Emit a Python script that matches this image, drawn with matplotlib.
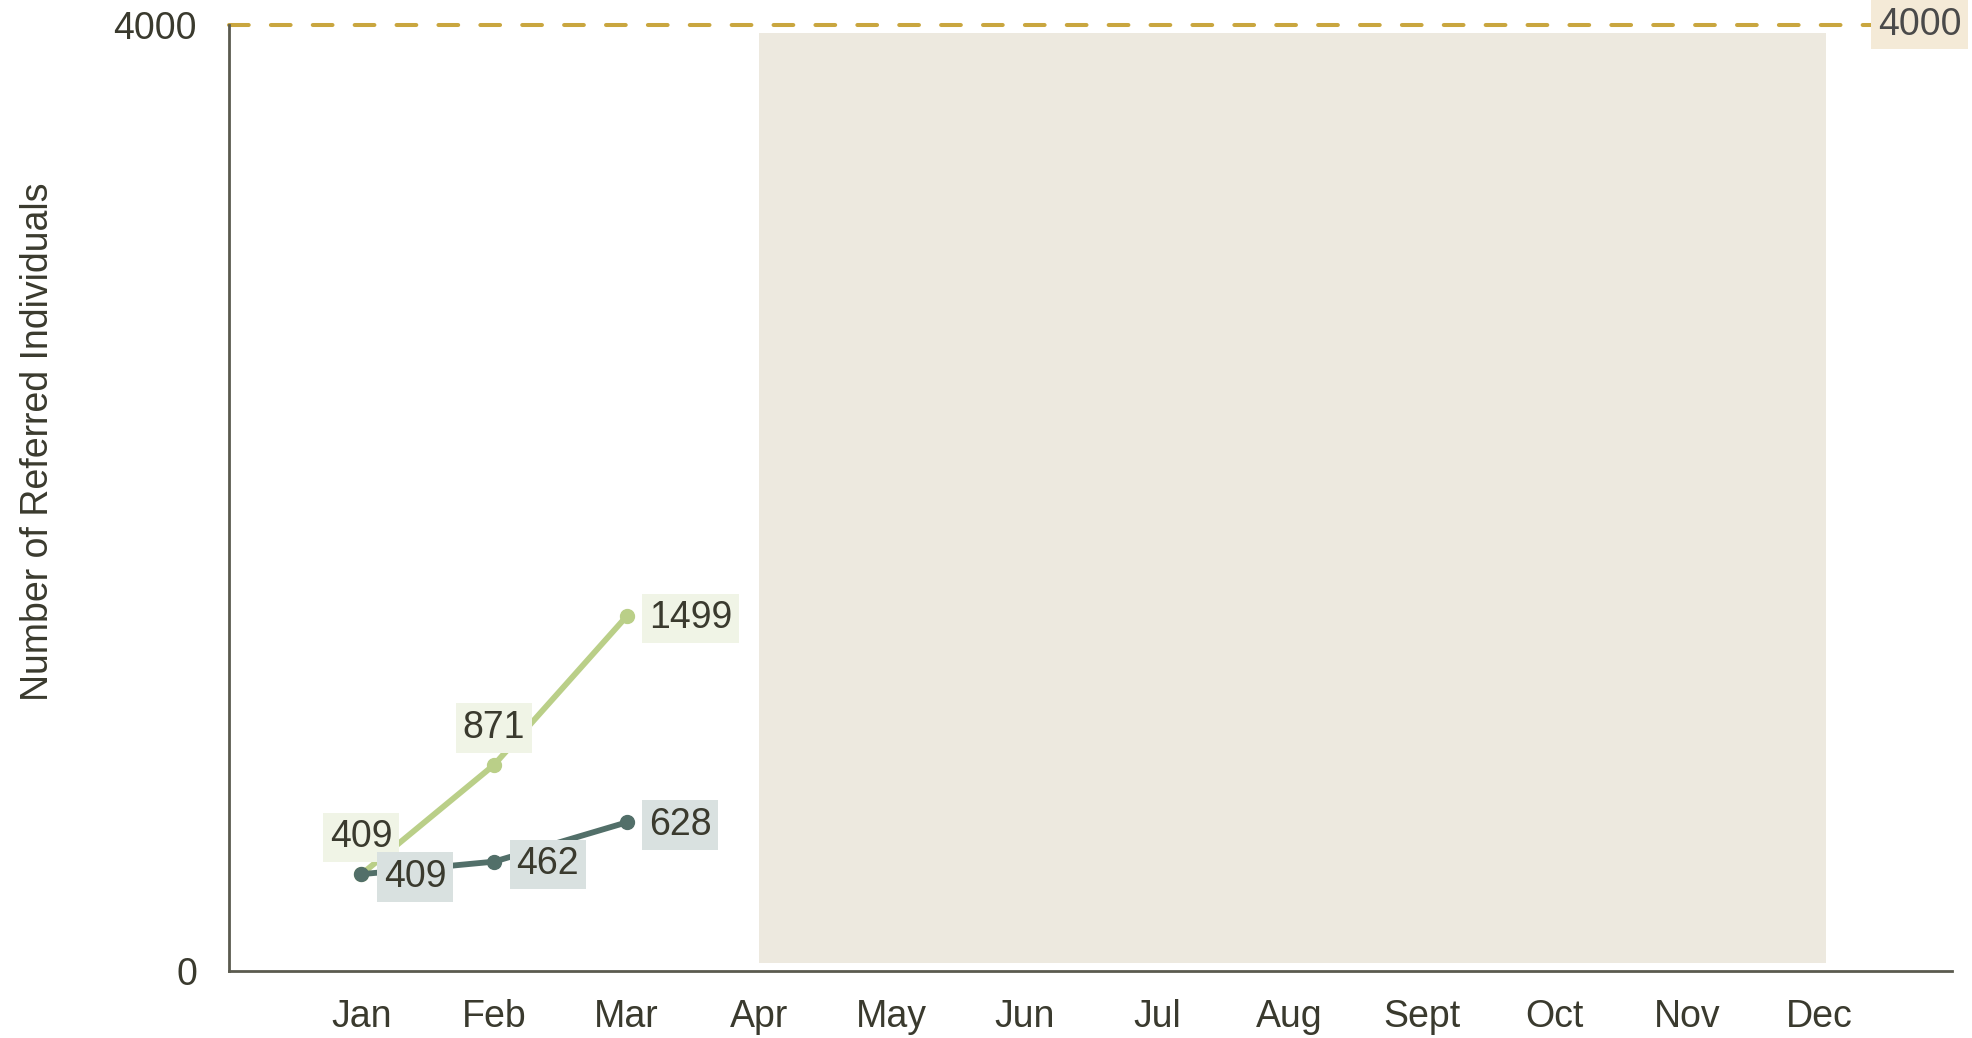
import matplotlib
matplotlib.use('Agg')
import matplotlib.pyplot as plt
from matplotlib.patches import Rectangle

# dados
meses = ['Jan', 'Feb', 'Mar', 'Apr', 'May', 'Jun', 'Jul', 'Aug', 'Sept', 'Oct', 'Nov', 'Dec']
acumulado = [409, 871, 1499]      # linha verde clara
mensal = [409, 462, 628]          # linha verde escura
meta = 4000
faixa_inicio = 3.0                # area sombreada (Apr .. Dec)
faixa_fim = 11.05
faixa_base = 35
faixa_topo = 3965

plt.rcParams['font.family'] = ['Liberation Sans', 'DejaVu Sans']

cor_texto = '#3a3a2e'
cor_clara = '#bacf88'
cor_escura = '#526f69'

fig = plt.figure(figsize=(19.72, 10.38), dpi=100)
ax = fig.add_axes([0.1161, 0.0646, 0.8738, 0.9116])

x = list(range(len(meses)))

# faixa sombreada dos meses sem dados
ax.add_patch(Rectangle((faixa_inicio, faixa_base), faixa_fim - faixa_inicio,
                       faixa_topo - faixa_base, color='#ede9df', lw=0, zorder=0))

# linha de meta tracejada
ax.axhline(meta, color='#c9a63f', lw=2.9, linestyle=(0, (4.9, 5.5)),
           dash_capstyle='round', zorder=1, clip_on=False)
ax.text(11.44, meta, str(meta), fontsize=27, color='#4a4a4a', ha='left', va='center',
        bbox=dict(boxstyle='square,pad=0.18', fc='#f4ead7', ec='none'),
        zorder=5, clip_on=False)

n = len(acumulado)
ax.plot(x[:n], acumulado, color=cor_clara, lw=4.2, marker='o', ms=10,
        solid_capstyle='round', zorder=3)
ax.plot(x[:n], mensal, color=cor_escura, lw=4.2, marker='o', ms=10,
        solid_capstyle='round', zorder=3)

# rotulos dos pontos
box_claro = dict(boxstyle='square,pad=0.18', fc='#f0f4e6', ec='none')
box_escuro = dict(boxstyle='square,pad=0.18', fc='#d9e1e0', ec='none')
for i, v in enumerate(acumulado):
    if i < n - 1:
        ax.annotate(str(v), (x[i], v), xytext=(0, 26.5), textcoords='offset points',
                    ha='center', va='center', fontsize=27, color=cor_texto,
                    bbox=box_claro, zorder=4)
    else:
        ax.annotate(str(v), (x[i], v), xytext=(16, -1.5), textcoords='offset points',
                    ha='left', va='center', fontsize=27, color=cor_texto,
                    bbox=box_claro, zorder=4)
for i, v in enumerate(mensal):
    ax.annotate(str(v), (x[i], v), xytext=(16, -2), textcoords='offset points',
                ha='left', va='center', fontsize=27, color=cor_texto,
                bbox=box_escuro, zorder=4)

ax.set_xlim(-1, 12)
ax.set_ylim(0, 4000)
ax.set_xticks(x)
ax.set_xticklabels(meses)
ax.set_yticks([0, 4000])
ax.set_yticklabels(['0', '4000'])
ax.tick_params(axis='both', length=0, labelsize=27, colors=cor_texto)
ax.tick_params(axis='x', pad=20.5)
ax.tick_params(axis='y', pad=23)

for lado in ['top', 'right']:
    ax.spines[lado].set_visible(False)
for lado in ['left', 'bottom']:
    ax.spines[lado].set_color('#5b5b4f')
    ax.spines[lado].set_linewidth(2)

fig.text(38 / 1972, 1 - 442 / 1038, 'Number of Referred Individuals', rotation=90,
         ha='center', va='center', fontsize=27, color=cor_texto)

fig.savefig('out.png', dpi=100)
